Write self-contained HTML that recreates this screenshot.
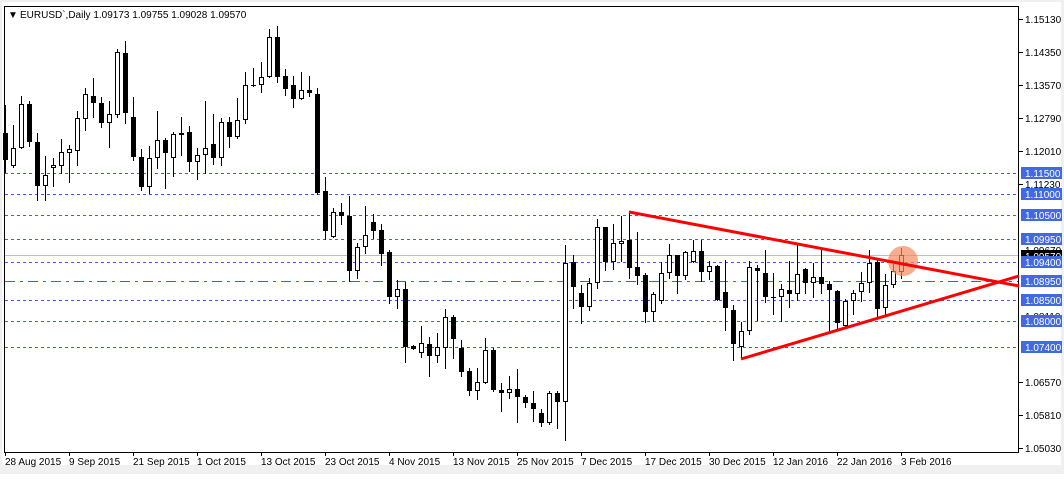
<!DOCTYPE html>
<html><head><meta charset="utf-8">
<style>
html,body{margin:0;padding:0;background:#fff;}
body{width:1064px;height:474px;overflow:hidden;position:relative;font-family:"Liberation Sans",sans-serif;}
svg text{font-family:"Liberation Sans",sans-serif;font-size:10px;}
</style></head>
<body>
<svg id="c" width="1064" height="474" xmlns="http://www.w3.org/2000/svg" shape-rendering="crispEdges">
<rect x="0" y="0" width="1064" height="474" fill="#f0f0f0"/>
<rect x="2" y="2" width="1059" height="463" fill="#fff"/>
<rect x="4.5" y="6.5" width="1014" height="446" fill="#fff" stroke="#000" stroke-width="1"/>
<g stroke="#3b5ee6" stroke-width="1" stroke-dasharray="3,3">
<line x1="5" x2="1018" y1="173.5" y2="173.5"/>
<line x1="5" x2="1018" y1="194.5" y2="194.5"/>
<line x1="5" x2="1018" y1="215.5" y2="215.5"/>
<line x1="5" x2="1018" y1="239.5" y2="239.5"/>
<line x1="5" x2="1018" y1="262.5" y2="262.5"/>
<line x1="5" x2="1018" y1="300.5" y2="300.5"/>
<line x1="5" x2="1018" y1="321.5" y2="321.5"/>
<line x1="5" x2="1018" y1="347.5" y2="347.5"/>
</g>
<line x1="5" x2="1018" y1="281.5" y2="281.5" stroke="#3b5ee6" stroke-dasharray="10,5,3,5"/>
<line x1="5" x2="1018" y1="255.5" y2="255.5" stroke="#c0c0c0"/>
<g id="candles"></g>
<circle cx="903" cy="261" r="15" fill="#f58a5e" fill-opacity="0.7" shape-rendering="auto"/>
<g stroke="#ff0000" stroke-width="3" shape-rendering="auto">
<line x1="629" y1="212" x2="1019" y2="286"/>
<line x1="741" y1="359" x2="1019" y2="276"/>
</g>
<g font-size="10" fill="#000">
<text x="8" y="18">&#9660;</text>
<text x="20" y="18">EURUSD`,Daily  1.09173 1.09755 1.09028 1.09570</text>
</g>
<g stroke="#000">
<line x1="1019" x2="1023" y1="19.5" y2="19.5"/><line x1="1019" x2="1023" y1="52.5" y2="52.5"/>
<line x1="1019" x2="1023" y1="85.5" y2="85.5"/><line x1="1019" x2="1023" y1="118.5" y2="118.5"/>
<line x1="1019" x2="1023" y1="151.5" y2="151.5"/><line x1="1019" x2="1023" y1="184.5" y2="184.5"/>
<line x1="1019" x2="1023" y1="382.5" y2="382.5"/><line x1="1019" x2="1023" y1="415.5" y2="415.5"/>
<line x1="1019" x2="1023" y1="448.5" y2="448.5"/>
</g>
<g fill="#000">
<text x="1025" y="23">1.15130</text><text x="1025" y="56">1.14350</text>
<text x="1025" y="89">1.13570</text><text x="1025" y="122">1.12790</text>
<text x="1025" y="155">1.12010</text><text x="1025" y="188">1.11230</text>
<text x="1025" y="221">1.10450</text><text x="1025" y="254">1.09670</text>
<text x="1025" y="287">1.08890</text><text x="1025" y="320">1.08110</text>
<text x="1025" y="353">1.07330</text>
<text x="1025" y="386">1.06570</text><text x="1025" y="419">1.05810</text>
<text x="1025" y="452">1.05030</text>
</g>
<rect x="1021" y="250" width="41" height="10" fill="#000"/>
<text x="1025" y="260" fill="#fff">1.09570</text>
<g fill="#4169e1">
<rect x="1021" y="167" width="41" height="12"/>
<rect x="1021" y="188" width="41" height="12"/>
<rect x="1021" y="209" width="41" height="12"/>
<rect x="1021" y="233" width="41" height="12"/>
<rect x="1021" y="256" width="41" height="12"/>
<rect x="1021" y="275" width="41" height="12"/>
<rect x="1021" y="294" width="41" height="12"/>
<rect x="1021" y="315" width="41" height="12"/>
<rect x="1021" y="341" width="41" height="12"/>
</g>
<g fill="#fff">
<text x="1025" y="177">1.11500</text><text x="1025" y="198">1.11000</text>
<text x="1025" y="219">1.10500</text><text x="1025" y="243">1.09950</text>
<text x="1025" y="266">1.09400</text><text x="1025" y="285">1.08950</text>
<text x="1025" y="304">1.08500</text><text x="1025" y="325">1.08000</text>
<text x="1025" y="351">1.07400</text>
</g>
<g id="xt" stroke="#000"></g>
<g fill="#000">
<text x="5" y="465">28 Aug 2015</text><text x="69" y="465">9 Sep 2015</text>
<text x="133" y="465">21 Sep 2015</text><text x="197" y="465">1 Oct 2015</text>
<text x="261" y="465">13 Oct 2015</text><text x="325" y="465">23 Oct 2015</text>
<text x="389" y="465">4 Nov 2015</text><text x="453" y="465">13 Nov 2015</text>
<text x="517" y="465">25 Nov 2015</text><text x="581" y="465">7 Dec 2015</text>
<text x="645" y="465">17 Dec 2015</text><text x="709" y="465">30 Dec 2015</text>
<text x="773" y="465">12 Jan 2016</text><text x="837" y="465">22 Jan 2016</text>
<text x="901" y="465">3 Feb 2016</text>
</g>
</svg>
<script>
var D=[[0,105,133,160,172],[1,125,148,166,167],[1,96,104,148,148],[0,101,104,142,146],[0,133,142,186,200],[1,156,175,186,200],[1,158,165,168,186],[1,139,152,166,173],[1,145,149,153,182],[1,111,118,151,165],
[1,88,94,119,130],[0,78,96,103,117],[0,97,103,123,127],[1,101,114,123,147],[1,49,52,115,117],[0,41,53,113,123],[0,97,117,157,160],[0,149,157,187,190],[1,146,158,187,193],[1,111,140,158,168],
[0,138,140,153,188],[1,132,134,158,176],[0,117,133,135,155],[0,126,132,162,171],[1,148,155,162,179],[1,101,148,155,173],[0,114,144,158,164],[1,118,122,158,165],[0,117,122,137,147],[1,98,120,137,138],
[1,72,85,120,123],[0,68,85,86,86],[1,62,77,85,92],[1,29,37,77,77],[0,26,37,77,82],[0,69,76,89,95],[0,76,85,99,107],[1,72,90,99,99],[0,76,90,93,96],[0,88,94,193,194],
[0,177,191,231,239],[1,208,212,237,237],[0,203,212,216,224],[0,196,216,271,281],[1,243,247,271,278],[1,206,235,247,253],[0,214,222,231,238],[0,224,230,254,265],[0,250,252,297,303],[1,280,289,297,308],
[0,282,289,347,362],[0,345,346,349,349],[1,326,343,353,357],[0,337,344,356,376],[1,333,347,356,362],[1,309,317,348,368],[0,315,317,339,358],[0,340,348,372,376],[0,368,371,391,395],[1,368,382,391,399],
[1,338,350,383,383],[0,348,350,390,391],[0,383,390,393,411],[1,376,389,393,398],[0,369,389,397,422],[0,395,397,403,407],[0,391,403,409,421],[0,409,413,423,426],[1,391,393,423,424],[0,391,393,402,428],
[1,245,263,402,440],[0,255,262,287,308],[0,285,293,307,323],[1,278,283,307,310],[1,219,227,283,288],[0,227,227,262,270],[1,224,243,262,269],[1,216,241,244,261],[0,211,240,268,278],[0,232,267,276,284],
[0,273,275,312,322],[1,292,294,312,321],[1,262,273,301,303],[1,244,255,273,278],[0,255,255,276,293],[1,251,252,276,279],[1,240,251,262,262],[0,240,251,272,281],[1,261,266,272,279],[0,265,266,300,300],
[0,260,292,308,330],[0,305,310,344,360],[1,322,331,347,358],[1,261,267,331,334],[0,265,268,271,320],[0,250,273,297,302],[0,273,297,298,314],[1,284,289,297,321],[0,261,290,294,307],[1,244,274,294,300],
[0,268,269,283,293],[1,263,277,283,297],[0,250,277,284,293],[0,281,284,290,332],[0,290,291,323,328],[1,299,301,326,326],[1,290,293,301,314],[1,272,283,292,301],[1,250,263,283,292],[0,260,262,309,317],
[1,274,285,308,315],[1,264,271,285,287],[1,248,255,272,278]];
var g=document.getElementById("candles"),s="";
D.forEach(function(d,i){var x=5+8*i;
s+='<line x1="'+(x+0.5)+'" x2="'+(x+0.5)+'" y1="'+d[1]+'" y2="'+(d[4]+1)+'" stroke="#000"/>';
var h=Math.max(d[3]-d[2],1);
if(d[0])s+='<rect x="'+(x-1.5)+'" y="'+(d[2]+0.5)+'" width="4" height="'+Math.max(h-1,0)+'" fill="#fff" stroke="#000"/>';
else s+='<rect x="'+(x-2)+'" y="'+d[2]+'" width="5" height="'+h+'" fill="#000"/>';});
g.innerHTML=s;
var t="";for(var k=0;k<15;k++){var x=5.5+64*k;t+='<line x1="'+x+'" x2="'+x+'" y1="452" y2="456"/>';}
document.getElementById("xt").innerHTML=t;
</script>
</body></html>
